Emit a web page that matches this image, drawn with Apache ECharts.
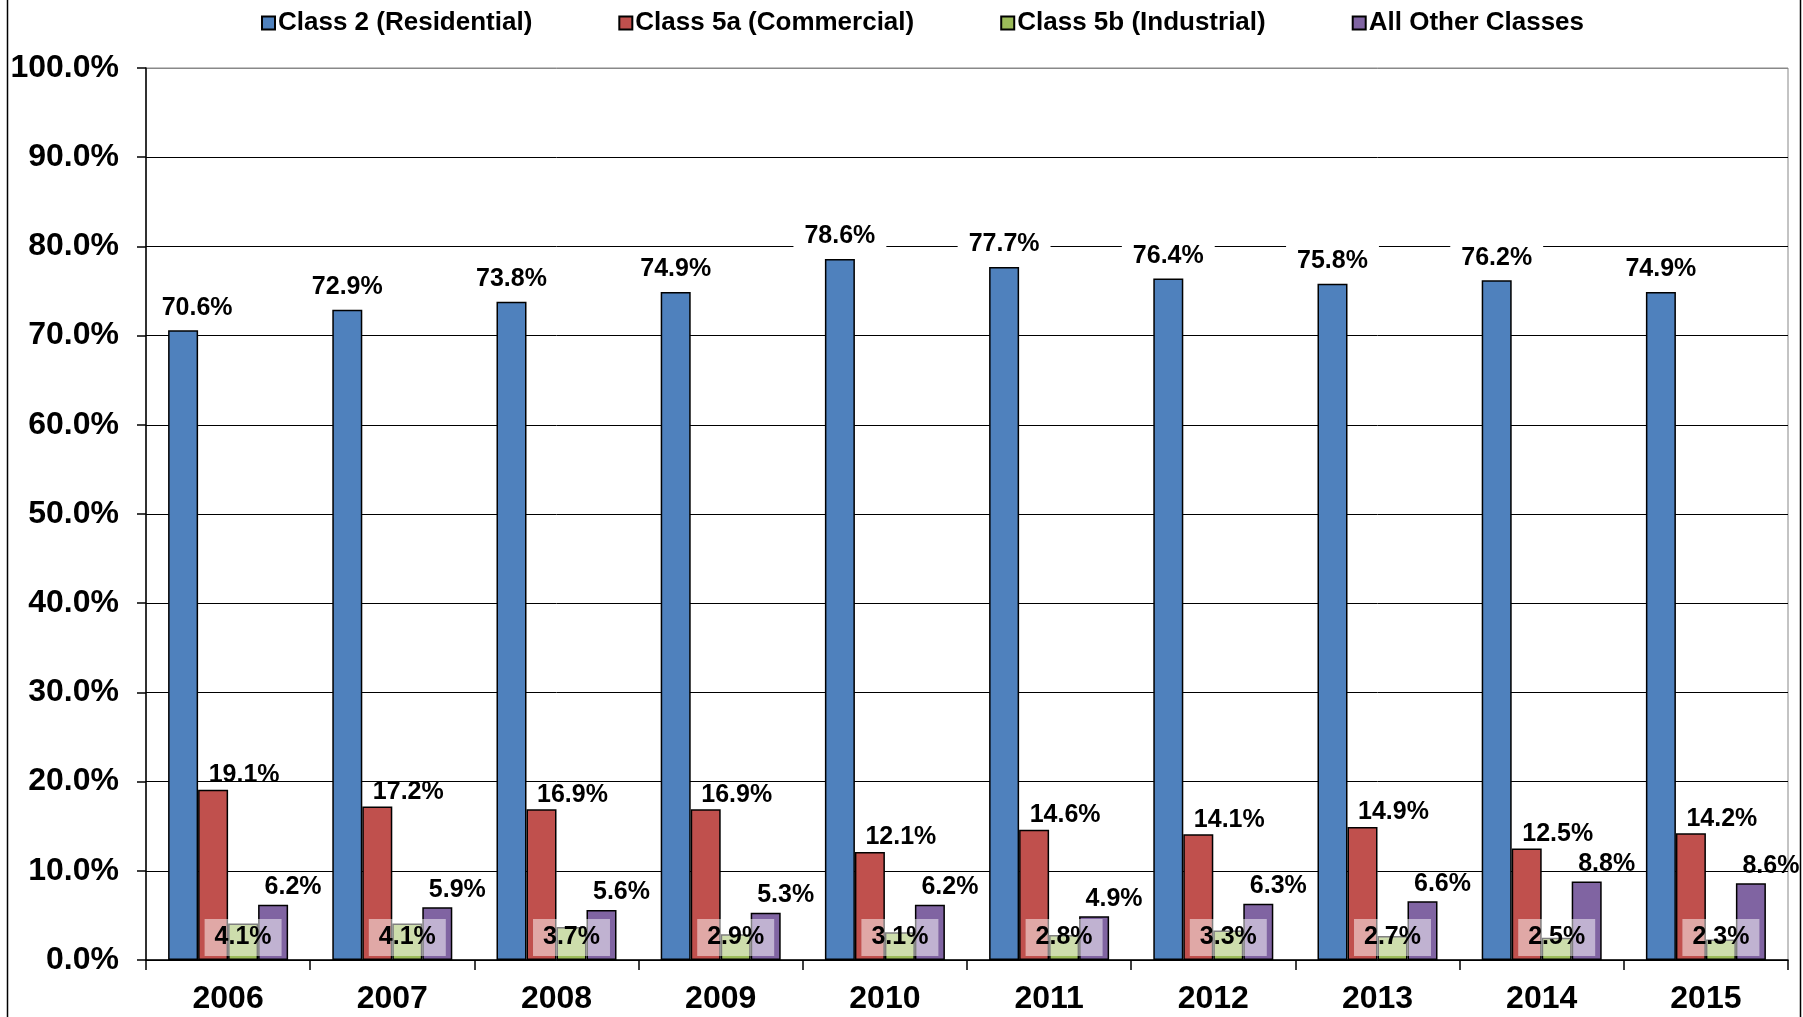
<!DOCTYPE html>
<html>
<head>
<meta charset="utf-8">
<title>Class share by year</title>
<script src="https://cdn.jsdelivr.net/npm/echarts@6/dist/echarts.min.js"></script>
<style>
  html, body { margin: 0; padding: 0; background: #fff; }
  #chart { width: 1803px; height: 1017px; }
</style>
</head>
<body>
<div id="chart"></div>
<script>
const years = ['2006', '2007', '2008', '2009', '2010', '2011', '2012', '2013', '2014', '2015']
const residential = [70.6, 72.9, 73.8, 74.9, 78.6, 77.7, 76.4, 75.8, 76.2, 74.9]
const commercial = [19.1, 17.2, 16.9, 16.9, 12.1, 14.6, 14.1, 14.9, 12.5, 14.2]
const industrial = [4.1, 4.1, 3.7, 2.9, 3.1, 2.8, 3.3, 2.7, 2.5, 2.3]
const otherClasses = [6.2, 5.9, 5.6, 5.3, 6.2, 4.9, 6.3, 6.6, 8.8, 8.6]
const seriesNames = ['Class 2 (Residential)', 'Class 5a (Commercial)', 'Class 5b (Industrial)', 'All Other Classes']

const font = "'Liberation Sans', Arial, sans-serif"
const pct = p => p.value.toFixed(1) + '%'

// common label text style
const baseLabel = {
  show: true,
  formatter: pct,
  color: '#000',
  fontFamily: font,
  fontWeight: 'bold',
  fontSize: 25
}

const chart = echarts.init(document.getElementById('chart'))

// gridlines black, the top (100%) one grey like the plot frame
const splitColors = ['#000', '#000', '#000', '#000', '#000', '#000', '#000', '#000', '#000', '#000', '#888']

// first residential label sits a bit to the right so it clears the y axis
const residentialData = residential.map((v, i) => i === 0 ? { value: v, label: { offset: [14, 0] } } : v)

chart.setOption({
  animation: false,
  color: ['#4F81BD', '#C0504D', '#9BBB59', '#8064A2'],
  legend: {
    data: seriesNames,
    left: 256,
    top: 5,
    icon: 'rect',
    itemWidth: 13,
    itemHeight: 13,
    itemGap: 86,
    textStyle: {
      fontFamily: font,
      fontWeight: 'bold',
      fontSize: 26,
      color: '#000',
      padding: [0, 0, 0, -2]
    }
  },
  grid: {
    left: 146,
    right: 15,
    top: 68,
    bottom: 57,
    show: true,
    borderColor: '#888',
    borderWidth: 1
  },
  graphic: [
    { type: 'line', shape: { x1: 7.5, y1: 0, x2: 7.5, y2: 1017 }, style: { stroke: '#000', lineWidth: 1.5 } },
    { type: 'line', shape: { x1: 1800.5, y1: 0, x2: 1800.5, y2: 1017 }, style: { stroke: '#000', lineWidth: 1.5 } }
  ],
  xAxis: {
    type: 'category',
    data: years,
    axisLine: { lineStyle: { color: '#000', width: 1.5 } },
    axisTick: { show: true, length: 10, lineStyle: { color: '#000', width: 1.5 } },
    axisLabel: {
      margin: 23,
      color: '#000',
      fontFamily: font,
      fontWeight: 'bold',
      fontSize: 32
    }
  },
  yAxis: {
    type: 'value',
    min: 0,
    max: 100,
    interval: 10,
    axisLine: { show: true, lineStyle: { color: '#000', width: 1.5 } },
    axisTick: { show: true, length: 9, lineStyle: { color: '#000', width: 1.5 } },
    splitLine: { lineStyle: { color: splitColors, width: 1 } },
    axisLabel: {
      margin: 27,
      color: '#000',
      fontFamily: font,
      fontWeight: 'bold',
      fontSize: 32,
      formatter: v => v.toFixed(1) + '%'
    }
  },
  series: [{
    name: seriesNames[0],
    type: 'bar',
    barWidth: 30,
    barGap: '0%',
    data: residentialData,
    itemStyle: { borderColor: '#000', borderWidth: 1.5 },
    label: Object.assign({}, baseLabel, {
      position: 'top',
      distance: 7,
      backgroundColor: '#fff',
      padding: [3, 11]
    })
  },
  {
    name: seriesNames[1],
    type: 'bar',
    barWidth: 30,
    barGap: '0%',
    data: commercial,
    itemStyle: { borderColor: '#000', borderWidth: 1.5 },
    label: Object.assign({}, baseLabel, {
      position: 'top',
      distance: 2,
      offset: [31, 0]
    })
  },
  {
    name: seriesNames[2],
    type: 'bar',
    barWidth: 30,
    barGap: '0%',
    data: industrial,
    itemStyle: { borderColor: '#000', borderWidth: 1.5 },
    label: Object.assign({}, baseLabel, {
      position: 'insideBottom',
      distance: 4,
      backgroundColor: 'rgba(255,255,255,0.5)',
      padding: [6, 10]
    })
  },
  {
    name: seriesNames[3],
    type: 'bar',
    barWidth: 30,
    barGap: '0%',
    data: otherClasses,
    itemStyle: { borderColor: '#000', borderWidth: 1.5 },
    label: Object.assign({}, baseLabel, {
      position: 'top',
      distance: 5,
      offset: [20, 0]
    })
  }]
})
</script>
</body>
</html>
